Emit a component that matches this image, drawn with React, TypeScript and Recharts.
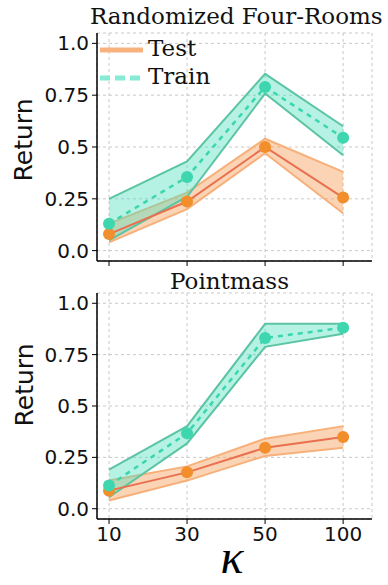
import React from 'react'
import {
  ComposedChart,
  Line,
  Area,
  XAxis,
  YAxis,
  CartesianGrid,
} from 'recharts'

const kappa = ['10', '30', '50', '100']
const yTicks = [0, 0.25, 0.5, 0.75, 1]
const yTickLabels = ['0.0', '0.25', '0.5', '0.75', '1.0']

// Randomized Four-Rooms
const roomsTest = [0.08, 0.237, 0.5, 0.256]
const roomsTestLo = [0.04, 0.2, 0.47, 0.18]
const roomsTestHi = [0.13, 0.28, 0.54, 0.38]
const roomsTrain = [0.13, 0.355, 0.79, 0.545]
const roomsTrainLo = [0.05, 0.26, 0.758, 0.46]
const roomsTrainHi = [0.25, 0.43, 0.853, 0.6]

// Pointmass
const pmTest = [0.088, 0.177, 0.297, 0.349]
const pmTestLo = [0.04, 0.137, 0.257, 0.297]
const pmTestHi = [0.137, 0.206, 0.341, 0.402]
const pmTrain = [0.113, 0.367, 0.831, 0.881]
const pmTrainLo = [0.056, 0.318, 0.788, 0.852]
const pmTrainHi = [0.19, 0.402, 0.9, 0.9]

function rows(test: number[], tLo: number[], tHi: number[], train: number[], rLo: number[], rHi: number[]) {
  return kappa.map((k, i) => ({
    i,
    k,
    test: test[i],
    testBand: [tLo[i], tHi[i]],
    train: train[i],
    trainBand: [rLo[i], rHi[i]],
  }))
}

const roomsData = rows(roomsTest, roomsTestLo, roomsTestHi, roomsTrain, roomsTrainLo, roomsTrainHi)
const pmData = rows(pmTest, pmTestLo, pmTestHi, pmTrain, pmTrainLo, pmTrainHi)

const tickFont = { fontFamily: 'DejaVu Sans', fontSize: 20, fill: '#111' }
const serif = 'DejaVu Serif'

interface PanelProps {
  data: any[]
  height: number
  top: number
  xAxisHeight: number
  showLabels: boolean
}

function Panel({ data, height, top, xAxisHeight, showLabels }: PanelProps) {
  return (
    <ComposedChart
      width={388}
      height={height}
      data={data}
      margin={{ top, right: 16, left: 0, bottom: 0 }}
    >
      <CartesianGrid stroke="#bbb" strokeDasharray="3 3" strokeWidth={0.8} />
      <XAxis
        type="number"
        dataKey="i"
        domain={[-0.154, 3.37]}
        ticks={[0, 1, 2, 3]}
        allowDataOverflow
        height={xAxisHeight}
        tickSize={5}
        tickMargin={3}
        tick={tickFont}
        tickFormatter={(v: number) => (showLabels ? kappa[v] : '')}
        axisLine={{ stroke: '#000', strokeWidth: 1.5 }}
        tickLine={{ stroke: '#000' }}
      />
      <XAxis xAxisId="top" orientation="top" type="number" domain={[0, 1]} height={0} tick={false} tickLine={false} axisLine={{ stroke: '#000', strokeWidth: 1.5 }} />
      <YAxis
        type="number"
        domain={[-0.05, 1.05]}
        ticks={yTicks}
        allowDataOverflow
        width={97}
        tickSize={5}
        tickMargin={3}
        tick={tickFont}
        tickFormatter={(v: number) => yTickLabels[yTicks.indexOf(v)]}
        axisLine={{ stroke: '#000', strokeWidth: 1.5 }}
        tickLine={{ stroke: '#000' }}
      />
      <YAxis yAxisId="right" orientation="right" type="number" domain={[0, 1]} width={0} tick={false} tickLine={false} axisLine={{ stroke: '#000', strokeWidth: 1.5 }} />
      <Area
        type="linear"
        dataKey="testBand"
        fill="#f7a05a"
        fillOpacity={0.45}
        stroke="#f7b07a"
        strokeWidth={2}
        dot={false}
        activeDot={false}
        isAnimationActive={false}
      />
      <Area
        type="linear"
        dataKey="trainBand"
        fill="#4fe0bf"
        fillOpacity={0.42}
        stroke="#5cc4a4"
        strokeWidth={2}
        dot={false}
        activeDot={false}
        isAnimationActive={false}
      />
      <Line
        type="linear"
        dataKey="test"
        stroke="#e8704f"
        strokeWidth={2}
        dot={{ r: 6, fill: '#f28e2b', stroke: 'none' }}
        activeDot={false}
        isAnimationActive={false}
      />
      <Line
        type="linear"
        dataKey="train"
        stroke="#3ad6ad"
        strokeWidth={2.5}
        strokeDasharray="5 5"
        dot={{ r: 6, fill: '#3dd6ae', stroke: 'none', strokeDasharray: '' }}
        activeDot={false}
        isAnimationActive={false}
      />
    </ComposedChart>
  )
}

const abs = (style: React.CSSProperties): React.CSSProperties => ({ position: 'absolute', whiteSpace: 'nowrap', ...style })

export default function App() {
  return (
    <div style={{ position: 'absolute', left: 0, top: 0, width: 388, height: 585, background: '#fff', overflow: 'hidden' }}>
      <div style={abs({ left: 0, top: 0 })}>
        <Panel data={roomsData} height={280} top={33} xAxisHeight={19} showLabels={false} />
      </div>
      <div style={abs({ left: 0, top: 280 })}>
        <Panel data={pmData} height={305} top={13} xAxisHeight={66} showLabels />
      </div>

      <div style={abs({ left: 90, top: 1, width: 292, textAlign: 'center', fontFamily: serif, fontSize: 23, lineHeight: '30px', color: '#111' })}>
        Randomized Four-Rooms
      </div>
      <div style={abs({ left: 170, top: 266, width: 118, textAlign: 'center', fontFamily: serif, fontSize: 23, lineHeight: '30px', color: '#111' })}>
        Pointmass
      </div>

      <div style={abs({ left: 23, top: 140, transform: 'translate(-50%, -50%) rotate(-90deg)', fontFamily: 'DejaVu Sans', fontSize: 25, color: '#111' })}>
        Return
      </div>
      <div style={abs({ left: 24, top: 385, transform: 'translate(-50%, -50%) rotate(-90deg)', fontFamily: 'DejaVu Sans', fontSize: 25, color: '#111' })}>
        Return
      </div>

      <div style={abs({ left: 232, top: 533, height: 48, transform: 'translateX(-50%)', fontFamily: 'Liberation Serif', fontStyle: 'italic', fontSize: 48, lineHeight: '48px', color: '#000' })}>
        κ
      </div>

      <svg style={abs({ left: 98, top: 36 })} width={50} height={56}>
        <line x1={2} y1={14} x2={45} y2={14} stroke="#f7b27e" strokeWidth={5} />
        <line x1={2} y1={42} x2={45} y2={42} stroke="#86ead5" strokeWidth={5} strokeDasharray="10 5" />
      </svg>
      <div style={abs({ left: 148, top: 34, fontFamily: serif, fontSize: 23, lineHeight: '28px', color: '#111' })}>Test</div>
      <div style={abs({ left: 148, top: 62, fontFamily: serif, fontSize: 23, lineHeight: '28px', color: '#111' })}>Train</div>
    </div>
  )
}
